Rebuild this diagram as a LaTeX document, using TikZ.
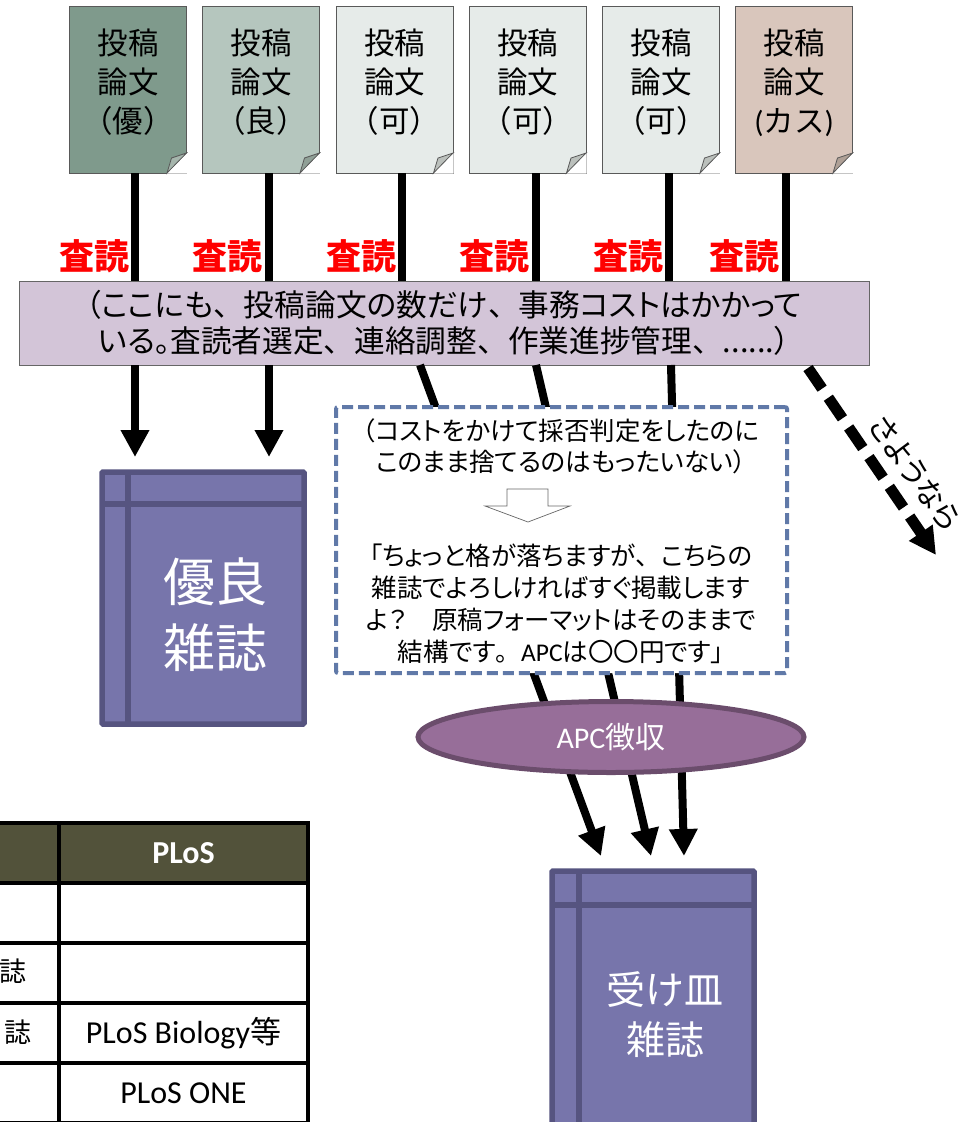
\documentclass[tikz,border=0pt]{standalone}
\usepackage{fontspec}
\setmainfont{Noto Sans CJK JP}[RawFeature=+palt]
\newfontfamily\nopalt{Noto Sans CJK JP}
\newfontfamily\lat{Carlito}
\usetikzlibrary{arrows.meta, positioning, shapes.geometric}
\definecolor{bookfill}{HTML}{7775AB}
\definecolor{bookline}{HTML}{565480}
\definecolor{barfill}{HTML}{D3C5D8}
\definecolor{ovalfill}{HTML}{976E99}
\definecolor{ovalline}{HTML}{6B4D6C}
\definecolor{boxline}{HTML}{6079A8}
\definecolor{headfill}{HTML}{52523A}
\definecolor{papera}{HTML}{7F9A8C}
\definecolor{paperb}{HTML}{B5C6BE}
\definecolor{paperc}{HTML}{E6EBE9}
\definecolor{paperd}{HTML}{D9C6BC}
\definecolor{folda}{HTML}{A5B5AC}
\definecolor{foldb}{HTML}{90A097}
\definecolor{foldc}{HTML}{BBC0BC}
\definecolor{foldd}{HTML}{AFA096}
\newcommand{\fsize}[2]{\fontsize{#1}{#2}\selectfont}
\newcommand{\wten}{{\nopalt 、}}
\newcommand{\wmaru}{{\nopalt 。}}
\tikzset{
  paper/.style={draw=black!65, line width=0.8pt, minimum width=117pt, minimum height=167pt, inner sep=0pt, outer sep=0pt, align=center, text depth=18pt, font=\nopalt\fsize{30.5}{39}},
  conn/.style={line width=8pt, black},
  connhead/.style={conn, -{Triangle[length=27pt,width=27pt]}},
  review/.style={text=red, font=\fsize{35}{40}\bfseries, inner sep=0pt},
  book/.style={draw=bookline, fill=bookfill, line width=5.5pt, rounded corners=1pt, outer sep=0pt},
  booktext/.style={text=white, align=center, inner sep=0pt},
  cell/.style={draw=black, line width=4pt, minimum height=60pt, inner sep=0pt, outer sep=0pt, anchor=north west, font=\lat\fsize{32}{36}}
}

\begin{document}
\begin{tikzpicture}[x=1pt,y=-1pt]
\useasboundingbox (0,0) rectangle (967,1122);

% table
\node [cell, fill=headfill, minimum width=71pt, text=white] (tabh0) at (-12,823) {};
\node [cell, fill=headfill, minimum width=249pt, text=white] (tabh) at (59,823) {\bfseries PLoS};
\node [cell, minimum width=71pt] (taba0) at (-12,883) {};
\node [cell, minimum width=249pt] (taba) at (59,883) {};
\node [cell, minimum width=71pt] (tabb0) at (-12,943) {};
\node [cell, minimum width=249pt] (tabb) at (59,943) {};
\node [cell, minimum width=71pt] (tabc0) at (-12,1003) {};
\node [cell, minimum width=249pt] (tabc) at (59,1003) {PLoS Biology{\nopalt\fsize{31}{36}等}};
\node [cell, minimum width=71pt] (tabd0) at (-12,1063) {};
\node [cell, minimum width=249pt] (tabd) at (59,1063) {PLoS ONE};
\node [font=\fsize{27}{30}, inner sep=0pt] (tabbt) at (13,971) {誌};
\node [font=\fsize{27}{30}, inner sep=0pt] (tabct) at (18,1032) {誌};

% bar
\node [draw=black!60, fill=barfill, line width=1pt, minimum width=850pt, minimum height=84pt, inner sep=0pt, outer sep=0pt, align=center, font=\fsize{30.7}{36}] (bar) at (444,323) {（ここにも\wten 投稿論文の数だけ\wten 事務コストはかかって\\いる。査読者選定\wten 連絡調整\wten 作業進捗管理\wten ......）};

% papers
\foreach \n/\px/\lx/\col/\fcol/\txt in {1/128/135/papera/folda/（優）, 2/261/269/paperb/foldb/（良）, 3/394.5/402/paperc/foldc/（可）, 4/527.5/536/paperc/foldc/（可）, 5/661/669/paperc/foldc/（可）, 6/794/786/paperd/foldd/{\lat(}カス{\lat)}} {
  \node [paper, fill=\col] (ppr\n) at (\px,89.5) {投稿\\論文\\\txt};
  \fill [white] ([xshift=0.5pt,yshift=20pt]ppr\n.south east) -- ([xshift=0.5pt,yshift=-0.5pt]ppr\n.south east) -- ([xshift=-19.5pt,yshift=-0.5pt]ppr\n.south east) -- cycle;
  \draw [draw=black!65, fill=\fcol, line width=0.8pt] ([yshift=20pt]ppr\n.south east) -- ([xshift=-19.5pt]ppr\n.south east) -- ([xshift=-15pt,yshift=15pt]ppr\n.south east) -- cycle;
  \draw [conn] (ppr\n.south -| \lx,0) -- (bar.north -| \lx,0);
}

% reviews
\foreach \n/\rx in {1/94, 2/227, 3/361, 4/494, 5/628, 6/744} {
  \node [review] (rev\n) at (\rx,256) {査読};
}

% good journal
\node [book, minimum width=202pt, minimum height=252pt] (jrna) at (203,598) {};
\draw [bookline, line width=5.5pt] (jrna.north -| 128,0) -- (jrna.south -| 128,0);
\draw [bookline, line width=5.5pt] (jrna.west |- 0,504) -- (jrna.east |- 0,504);
\node [booktext, font=\nopalt\fsize{52}{66}] (jrnat) at (215,615) {優良\\雑誌};

% dustbin journal
\node [book, minimum width=202pt, minimum height=264pt] (jrnb) at (653,1003) {};
\draw [bookline, line width=5.5pt] (jrnb.north -| 579,0) -- (jrnb.south -| 579,0);
\draw [bookline, line width=5.5pt] (jrnb.west |- 0,905) -- (jrnb.east |- 0,905);
\node [booktext, font=\nopalt\fsize{39}{50}] (jrnbt) at (665,1015) {受け皿\\雑誌};

% arrows
\coordinate (enda) at (135,457);
\coordinate (endb) at (269,457);
\coordinate (endc) at (601,856);
\coordinate (endd) at (651,856);
\coordinate (ende) at (684,856);
\coordinate (endf) at (936,555);
\draw [connhead] (bar.south -| 135,0) -- (enda);
\draw [connhead] (bar.south -| 269,0) -- (endb);
\draw [connhead] (bar.south -| 420,0) -- (endc);
\draw [connhead] (bar.south -| 536,0) -- (endd);
\draw [connhead] (bar.south -| 671,0) -- (ende);
\draw [connhead, line width=11pt, dash pattern=on 25pt off 11pt] (808,368) -- (endf);
\node [rotate=-54, font=\fsize{30}{32}, inner sep=0pt] (bye) at (915,473) {さようなら};

% box
\node [draw=boxline, fill=white, line width=4pt, dash pattern=on 11pt off 5pt, rounded corners=2pt, minimum width=451pt, minimum height=266pt, inner sep=0pt, outer sep=0pt] (cbox) at (561.5,540) {};
\node [font=\fsize{25.5}{31}, align=center, inner sep=0pt] (cboxa) at (561,446) {（コストをかけて採否判定をしたのに\\このまま捨てるのはもったいない）};
\node [font=\fsize{25.5}{32}, align=center, inner sep=0pt] (cboxb) at (561,604) {「ちょっと格が落ちますが\wten こちらの\\雑誌でよろしければすぐ掲載します\\よ？　原稿フォーマットはそのままで\\結構です\wmaru {\lat APC}は〇〇円です」};
\draw [draw=black!60, fill=white, line width=0.7pt] (507,489) -- (548,489) -- (548,506) -- (570,506) -- (528,522) -- (485,506) -- (507,506) -- cycle;

% oval
\node [ellipse, draw=ovalline, fill=ovalfill, line width=5pt, minimum width=386pt, minimum height=71pt, inner sep=0pt, outer sep=0pt, text=white, font=\fsize{30}{32}] (apc) at (611,737) {{\lat APC}徴収};

\end{tikzpicture}
\end{document}
